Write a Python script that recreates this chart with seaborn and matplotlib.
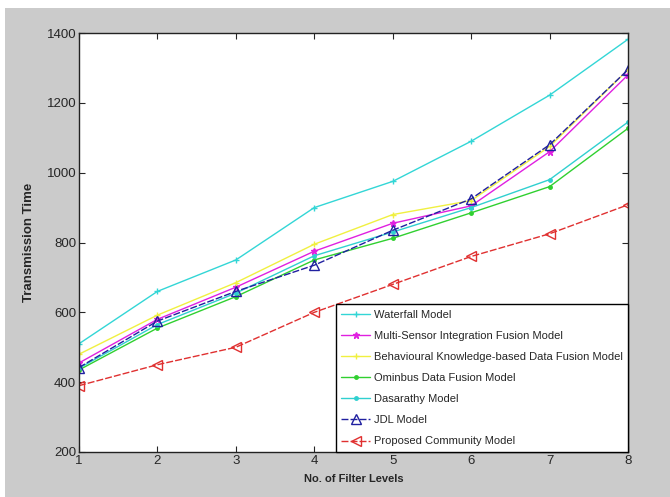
import seaborn as sns
import matplotlib.pyplot as plt
import pandas as pd
from matplotlib.patches import Rectangle

levels = [1, 2, 3, 4, 5, 6, 7, 8]
models = ['Waterfall Model', 'Multi-Sensor Integration Fusion Model',
          'Behavioural Knowledge-based Data Fusion Model', 'Ominbus Data Fusion Model',
          'Dasarathy Model', 'JDL Model', 'Proposed Community Model']
waterfall = [510, 660, 750, 900, 975, 1090, 1222, 1382]
multi_sensor = [455, 580, 672, 775, 855, 905, 1060, 1280]
behavioural = [480, 592, 685, 795, 880, 920, 1075, 1295]
omnibus = [435, 555, 645, 750, 812, 885, 960, 1127]
dasarathy = [440, 565, 655, 762, 830, 900, 980, 1145]
jdl = [442, 575, 660, 735, 835, 925, 1080, 1295]
proposed = [390, 450, 500, 600, 680, 760, 825, 908]
values = [waterfall, multi_sensor, behavioural, omnibus, dasarathy, jdl, proposed]

colors = ['#33d6d6', '#e020e0', '#f0f040', '#30d030', '#30d0d0', '#2020a0', '#e03030']
markers = ['+', '*', '+', '.', '.', '^', '<']
dashes = ['-', '-', '-', '-', '-', (0, (5, 1.5)), (0, (5, 1.5))]

rows = []
for m, vals in zip(models, values):
    for lv, v in zip(levels, vals):
        rows.append({'level': lv, 'time': v, 'model': m})
df = pd.DataFrame(rows)

sns.set_style('ticks')
plt.rcParams['font.family'] = ['Liberation Sans', 'DejaVu Sans']

fig = plt.figure(figsize=(6.7, 4.97), dpi=100, facecolor='white')
fig.patches.append(Rectangle((5 / 670, 0), 1, 489 / 497, transform=fig.transFigure,
                             facecolor='#cbcbcb', edgecolor='none', zorder=-10))
ax = fig.add_axes([79 / 670, 45 / 497, 549 / 670, 419 / 497])
ax.set_facecolor('white')

for i, m in enumerate(models):
    open_mk = markers[i] in ('^', '<')
    sns.lineplot(data=df[df['model'] == m], x='level', y='time', ax=ax,
                 color=colors[i], marker=markers[i], linestyle=dashes[i],
                 linewidth=1.0, markersize=7 if open_mk else 5,
                 markerfacecolor='none' if open_mk else colors[i],
                 markeredgecolor=colors[i], markeredgewidth=1.0, label=m)

ax.set_xlim(1, 8)
ax.set_ylim(200, 1400)
ax.set_xticks(levels)
ax.set_yticks(range(200, 1401, 200))
ax.tick_params(direction='in', top=True, right=True, labelsize=9.5, length=4, pad=2)
for s in ax.spines.values():
    s.set_linewidth(1.0)
    s.set_color('#222222')
ax.set_xlabel('No. of Filter Levels', fontsize=8, fontweight='bold', labelpad=5)
ax.set_ylabel('Transmission Time', fontsize=9.5, fontweight='bold', labelpad=8)

leg = ax.legend(loc='lower right', fontsize=8, frameon=True, fancybox=False,
                borderaxespad=0, handlelength=2.6, borderpad=0.5, labelspacing=1.0,
                handletextpad=0.3)
leg.get_frame().set_edgecolor('black')
leg.get_frame().set_linewidth(1.0)
leg.get_frame().set_alpha(1)

fig.savefig('out.png', dpi=100, facecolor=fig.get_facecolor())
